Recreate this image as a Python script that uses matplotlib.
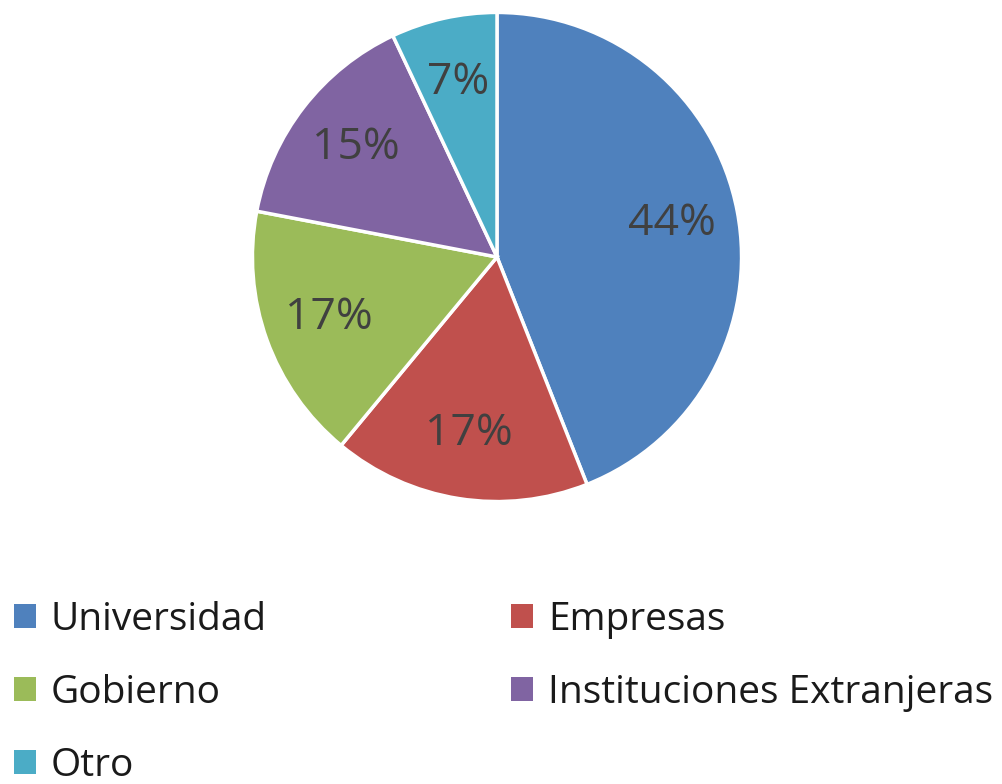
import matplotlib
matplotlib.use("Agg")
import matplotlib.pyplot as plt
from matplotlib.patches import Patch

# ── Data ──────────────────────────────────────────────────────────
categories = ["Universidad", "Empresas", "Gobierno",
              "Instituciones Extranjeras", "Otro"]
shares = [44, 17, 17, 15, 7]
colors = ["#4F81BD", "#C0504D", "#9BBB59", "#8064A2", "#4BACC6"]

plt.rcParams["font.family"] = ["Open Sans", "DejaVu Sans"]

fig = plt.figure(figsize=(10.02, 7.84), dpi=100)

# pie axes: centre ~ (497, 257) px, radius ~ 247 px
W, H = 1002, 784
cx, cy, r = 497, 257, 247
ax = fig.add_axes([(cx - r) / W, (H - cy - r) / H, 2 * r / W, 2 * r / H])

wedges, texts, autotexts = ax.pie(
    shares, colors=colors, startangle=90, counterclock=False,
    autopct="%.0f%%", pctdistance=0.73,
    wedgeprops=dict(edgecolor="white", linewidth=2.5),
    textprops=dict(color="#404040", fontsize=32),
)
ax.set_xlim(-1.01, 1.01)
ax.set_ylim(-1.01, 1.01)
ax.set_aspect("equal")

# ── Legend (two columns, Excel style) ─────────────────────────────
handles = [Patch(facecolor=c, edgecolor="none") for c in colors]
leg_kw = dict(frameon=False, fontsize=28, handlelength=0.57, handleheight=0.57,
              handletextpad=0.38, labelspacing=0.9, borderaxespad=0, borderpad=0,
              labelcolor="#1a1a1a")

left = [0, 2, 4]
right = [1, 3]
leg1 = fig.legend([handles[i] for i in left], [categories[i] for i in left],
                  loc="upper left", bbox_to_anchor=(0.014, 0.234), **leg_kw)
leg2 = fig.legend([handles[i] for i in right], [categories[i] for i in right],
                  loc="upper left", bbox_to_anchor=(0.51, 0.234), **leg_kw)

fig.savefig("out.png", dpi=100)
